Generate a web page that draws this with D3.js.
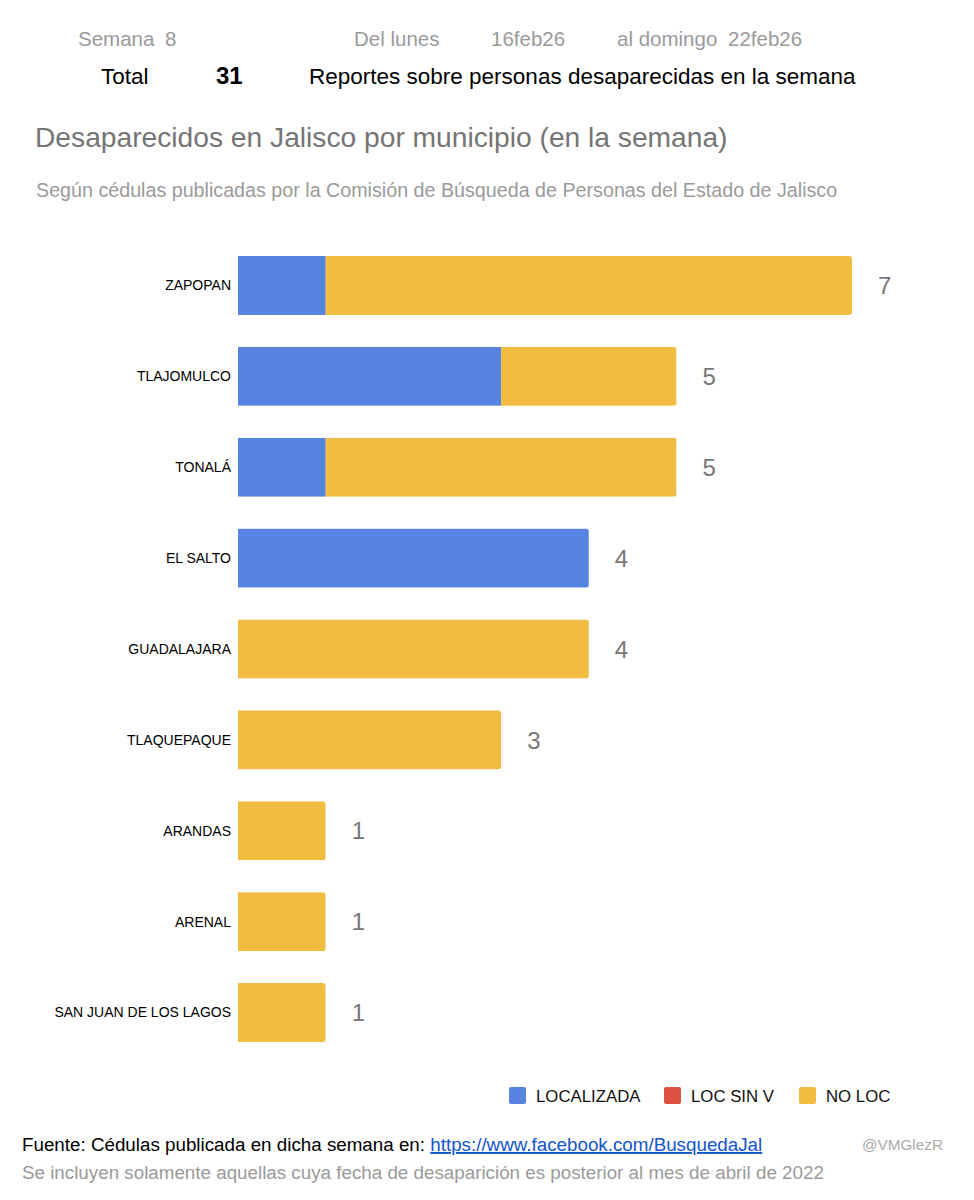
<!DOCTYPE html>
<html>
<head>
<meta charset="utf-8">
<script src="https://cdn.jsdelivr.net/npm/d3@7"></script>
<style>
  body { margin: 0; background: #fff; }
  svg { font-family: "Liberation Sans", Arial, sans-serif; }
</style>
</head>
<body>
<svg id="drawing_region"></svg>
<script>
const municipios = ["ZAPOPAN", "TLAJOMULCO", "TONALÁ", "EL SALTO", "GUADALAJARA",
                    "TLAQUEPAQUE", "ARANDAS", "ARENAL", "SAN JUAN DE LOS LAGOS"];
const localizada = [1, 3, 1, 4, 0, 0, 0, 0, 0];
const locSinV    = [0, 0, 0, 0, 0, 0, 0, 0, 0];
const noLoc      = [6, 2, 4, 0, 4, 3, 1, 1, 1];
const series = ["LOCALIZADA", "LOC SIN V", "NO LOC"];
const colors = ["#5784e1", "#dc513f", "#f1bd41"];

const W = 974, H = 1200;
const svg = d3.select("#drawing_region").attr("width", W).attr("height", H);

const data = municipios.map((m, i) => ({
    name: m, "LOCALIZADA": localizada[i], "LOC SIN V": locSinV[i], "NO LOC": noLoc[i],
    total: localizada[i] + locSinV[i] + noLoc[i]
}));

// header
const gray = "#9a9a9a";
const head = svg.append("g").attr("font-size", "20.5px").attr("fill", gray);
head.append("text").attr("x", 78).attr("y", 46).text("Semana");
head.append("text").attr("x", 165).attr("y", 46).text("8");
head.append("text").attr("x", 354).attr("y", 46).text("Del lunes");
head.append("text").attr("x", 491).attr("y", 46).text("16feb26");
head.append("text").attr("x", 617).attr("y", 46).text("al domingo");
head.append("text").attr("x", 728).attr("y", 46).text("22feb26");

svg.append("text").attr("x", 101).attr("y", 84).attr("font-size", "22.5px").text("Total");
svg.append("text").attr("x", 216).attr("y", 84).attr("font-size", "24px")
    .attr("font-weight", "bold").text("31");
svg.append("text").attr("x", 309).attr("y", 84).attr("font-size", "22.5px")
    .text("Reportes sobre personas desaparecidas en la semana");

svg.append("text").attr("x", 35).attr("y", 147).attr("font-size", "28.2px").attr("fill", "#757575")
    .text("Desaparecidos en Jalisco por municipio (en la semana)");
svg.append("text").attr("x", 36).attr("y", 197).attr("font-size", "19.7px").attr("fill", gray)
    .text("Según cédulas publicadas por la Comisión de Búsqueda de Personas del Estado de Jalisco");

// chart
const margin = {left: 238, top: 240};
const chart = svg.append("g").attr("transform", `translate(${margin.left}, ${margin.top})`);

const xscale = d3.scaleLinear().domain([0, 7]).range([0, 614]);
const yscale = d3.scaleBand().domain(municipios).range([0, 818]).paddingInner(0.35).paddingOuter(0.175);

const stacked = d3.stack().keys(series)(data);

const clip = chart.append("defs");
data.forEach((d, i) => {
    clip.append("clipPath").attr("id", "clip" + i)
        .append("rect")
        .attr("x", -5).attr("y", yscale(d.name))
        .attr("width", xscale(d.total) + 5)
        .attr("height", yscale.bandwidth())
        .attr("rx", 3);
});

stacked.forEach((s, k) => {
    chart.append("g")
        .selectAll("rect")
        .data(s)
        .join("rect")
        .attr("clip-path", (d, i) => `url(#clip${i})`)
        .attr("x", d => xscale(d[0]))
        .attr("y", d => yscale(d.data.name))
        .attr("width", d => xscale(d[1]) - xscale(d[0]))
        .attr("height", yscale.bandwidth())
        .attr("fill", colors[k]);
});

chart.append("g")
    .selectAll("text")
    .data(data)
    .join("text")
    .attr("x", -7)
    .attr("y", d => yscale(d.name) + yscale.bandwidth() / 2)
    .attr("dy", "0.35em")
    .attr("text-anchor", "end")
    .attr("font-size", "14px")
    .attr("fill", "#000")
    .text(d => d.name);

chart.append("g")
    .selectAll("text")
    .data(data)
    .join("text")
    .attr("x", d => xscale(d.total) + 26)
    .attr("y", d => yscale(d.name) + yscale.bandwidth() / 2)
    .attr("dy", "0.36em")
    .attr("font-size", "24px")
    .attr("fill", "#777")
    .text(d => d.total);

// legend
const legendX = [509, 664, 799];
const legend = svg.append("g").selectAll("g")
    .data(series)
    .join("g")
    .attr("transform", (d, i) => `translate(${legendX[i]}, 1087)`);
legend.append("rect").attr("width", 17).attr("height", 17).attr("rx", 2)
    .attr("fill", (d, i) => colors[i]);
legend.append("text").attr("x", 27).attr("y", 8.5).attr("dy", "0.36em")
    .attr("font-size", "16.8px").attr("fill", "#111").text(d => d);

// footer
const foot = svg.append("text").attr("x", 22).attr("y", 1151).attr("font-size", "18.8px");
foot.append("tspan").attr("fill", "#000").text("Fuente: Cédulas publicada en dicha semana en: ");
foot.append("tspan").attr("fill", "#1155cc").attr("text-decoration", "underline")
    .text("https://www.facebook.com/BusquedaJal");
svg.append("text").attr("x", 862).attr("y", 1150).attr("font-size", "15.3px").attr("fill", "#aaa")
    .text("@VMGlezR");
svg.append("text").attr("x", 22).attr("y", 1179).attr("font-size", "18.8px").attr("fill", gray)
    .text("Se incluyen solamente aquellas cuya fecha de desaparición es posterior al mes de abril de 2022");
</script>
</body>
</html>
